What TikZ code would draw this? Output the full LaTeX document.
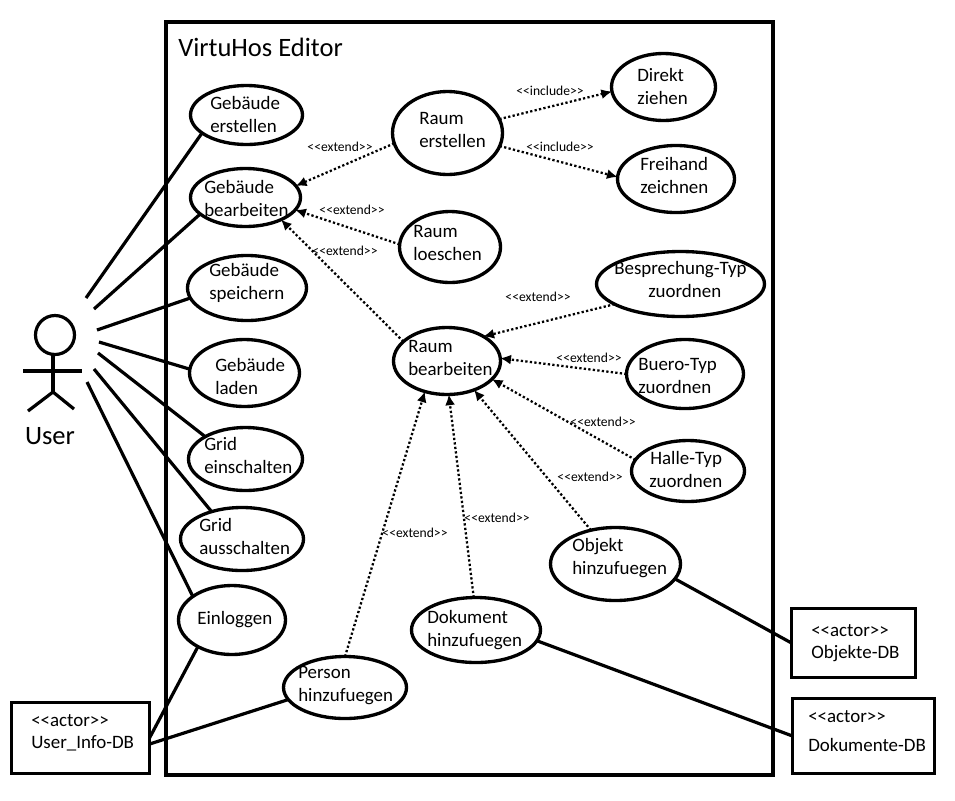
\documentclass[tikz,border=0pt]{standalone}
\usepackage{fontspec}
\setmainfont{Carlito}
\usetikzlibrary{shapes.geometric,arrows.meta}
\newcommand{\ucase}[8]{%
  \node[usecase,minimum width={(2*#4-3)*0.75pt},minimum height={(2*#5-3)*0.75pt}] (#1) at (#2,#3) {};
  \node[uctext] (#1-t) at (#6,#7) {#8};}
\newcommand{\arole}[9]{%
  \node[dbbox,minimum width={(#4-#2-1)*0.75pt},minimum height={(#5-#3-1)*0.75pt}] (#1) at ({(#2+#4)/2},{(#3+#5)/2}) {};
  \node[uctext,align=left] (#1-a) at (#6,#7) {<{}<actor>{}>};
  \node[uctext,align=left] (#1-b) at (#6,#8) {#9};}
\newcommand{\extl}[3]{\node[stereo] (#1) at (#2,#3) {<{}<extend>{}>};}
\newcommand{\incl}[3]{\node[stereo] (#1) at (#2,#3) {<{}<include>{}>};}
\tikzset{
  usecase/.style={ellipse,draw=black,line width=2.5pt,inner sep=0pt,outer sep=0pt},
  uctext/.style={anchor=west,align=left,inner sep=0pt,font=\fontsize{14.2}{17.25}\selectfont},
  stereo/.style={inner sep=0pt,font=\fontsize{10.2}{12}\selectfont},
  dbbox/.style={rectangle,draw=black,line width=2.5pt,inner sep=0pt,outer sep=0pt},
  solidline/.style={draw=black,line width=2.4pt},
  dep/.style={draw=black,line width=1.7pt,dash pattern=on 1.7pt off 1.7pt,-{Latex[length=8pt,width=7.5pt]}},
}
\begin{document}
\begin{tikzpicture}[x=0.75pt,y=-0.75pt]
\useasboundingbox (0,0) rectangle (955,800);
\fill[white] (0,0) rectangle (955,800);
\node[rectangle,draw=black,line width=2.7pt,inner sep=0pt,outer sep=0pt,minimum width={607*0.75pt},minimum height={753*0.75pt}] (frame) at (469.5,398.5) {};
\node[anchor=west,inner sep=0pt,font=\fontsize{19.9}{22}\selectfont] (title) at (178,47) {VirtuHos Editor};

\ucase{ge}{246.5}{115}{57.5}{31}{210}{114.5}{Gebäude\\erstellen}
\ucase{gb}{245.5}{197.5}{56.5}{30.5}{204}{198.5}{Gebäude\\bearbeiten}
\ucase{gs}{247}{288}{61}{34}{209}{282.5}{Gebäude\\speichern}
\ucase{gl}{244.5}{373}{56.5}{35}{215}{376.5}{Gebäude\\laden}
\ucase{gre}{245.5}{459}{58.5}{33}{204}{455.5}{Grid\\einschalten}
\ucase{gra}{242}{539}{63}{33}{199}{536.5}{Grid\\ausschalten}
\ucase{ein}{232}{620}{55}{36}{197}{620}{Einloggen}
\ucase{per}{345}{687.5}{63}{32.5}{298}{686}{Person\\hinzufuegen}
\ucase{dok}{476}{630}{66}{34}{427}{630.5}{Dokument\\hinzufuegen}
\ucase{obj}{615.5}{564}{66.5}{38}{572}{558.5}{Objekt\\hinzufuegen}
\ucase{rb}{447}{361}{55}{35}{408}{357.5}{Raum\\bearbeiten}
\ucase{re}{447.5}{133}{56.5}{43}{419}{129.5}{Raum\\erstellen}
\ucase{rl}{450}{247}{52}{37}{413}{242.5}{Raum\\loeschen}
\ucase{dz}{663.5}{87}{53.5}{35}{637}{86.5}{Direkt\\ziehen}
\ucase{fz}{676}{179}{60}{35}{640}{175.5}{Freihand\\zeichnen}
\ucase{bt}{680.5}{284}{85.5}{34}{614}{279.5}{Besprechung-Typ\\\hspace*{25.5pt}zuordnen}
\ucase{bu}{685}{374}{60}{36}{638}{375.5}{Buero-Typ\\zuordnen}
\ucase{ha}{688}{471}{58}{32}{649}{469.5}{\hspace*{0.8pt}Halle-Typ\\zuordnen}

\arole{uidb}{11}{702}{150}{774}{31}{721}{743}{User\_Info-DB}
\arole{odb}{791}{608}{916}{678}{811}{631}{654}{Objekte-DB}
\arole{ddb}{792}{698}{935}{774}{808}{717}{745}{Dokumente-DB}

% actor
\node[circle,draw=black,line width=2.4pt,inner sep=0pt,outer sep=0pt,minimum size={39*0.75pt}] (head) at (55,335) {};
\coordinate (hip) at (53,392);
\coordinate (armL) at (23,371);
\coordinate (armR) at (82,371);
\coordinate (legL) at (28,411);
\coordinate (legR) at (74,409);
\draw[solidline] (head.south -| hip) -- (hip);
\draw[solidline] (armL) -- (armR);
\draw[solidline] (legL) -- (hip) -- (legR);
\node[inner sep=0pt,font=\fontsize{19.9}{22}\selectfont] (user) at (50,436) {User};

% free ends beside the actor
\coordinate (u1) at (86,298);
\coordinate (u2) at (94,309);
\coordinate (u3) at (97,330);
\coordinate (u4) at (99,342);
\coordinate (u5) at (98,353);
\coordinate (u6) at (94,369);
\coordinate (u7) at (87,382);
\draw[solidline] (u1) -- (ge.202);
\draw[solidline] (u2) -- (gb.200);
\draw[solidline] (u3) -- (gs.190);
\draw[solidline] (u4) -- (gl.176);
\draw[solidline] (u5) -- (gre.151);
\draw[solidline] (u6) -- (gra.138.5);
\draw[solidline] (u7) -- (ein.149);
\draw[solidline] (ein.218) -- (uidb.east);
\draw[solidline] (per.192) -- (uidb.-5);
\draw[solidline] (obj.-14) -- (odb.west);
\draw[solidline] (dok.-10) -- (ddb.west);

% dependencies
\draw[dep] (re.15) -- (dz.185);
\draw[dep] (re.-14) -- (fz.178);
\draw[dep] (re.191) -- (gb.13);
\draw[dep] (rl.177) -- (gb.-14);
\draw[dep] (rb.156) -- (gb.-32);
\draw[dep] (bt.197) -- (rb.34);
\draw[dep] (bu.180) -- (rb.3);
\draw[dep] (ha.168) -- (rb.-22);
\draw[dep] (obj.126) -- (rb.-47);
\draw[dep] (dok.94) -- (rb.-87);
\draw[dep] (per.90) -- (rb.234);

\incl{i1}{550}{91}
\incl{i2}{560}{147}
\extl{e1}{340}{147}
\extl{e2}{352}{210}
\extl{e3}{345}{251}
\extl{e4}{538}{297}
\extl{e5}{589}{358}
\extl{e6}{603}{422}
\extl{e7}{590}{477}
\extl{e8}{415}{533}
\extl{e9}{497}{518}
\end{tikzpicture}
\end{document}
